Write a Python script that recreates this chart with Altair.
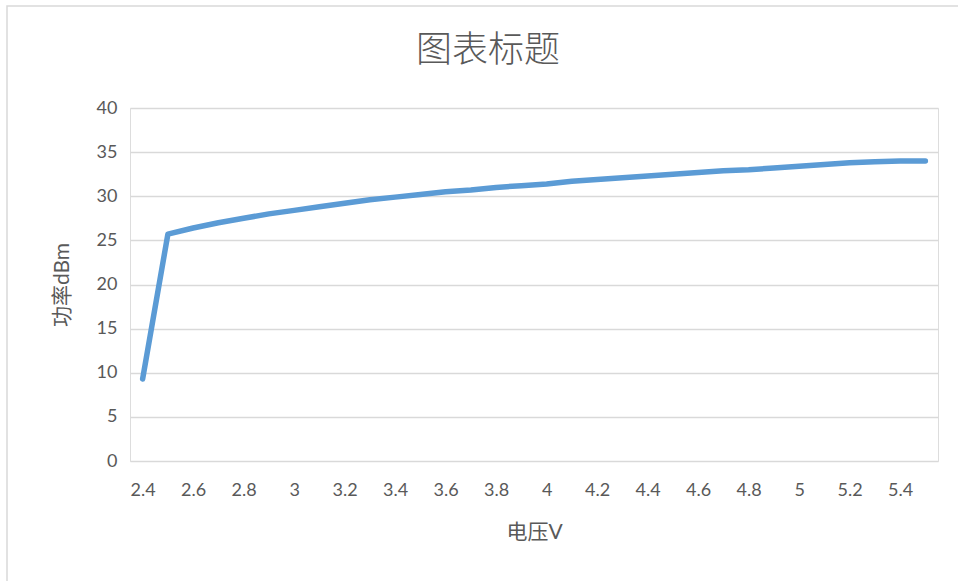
import altair as alt
import pandas as pd

voltage = [2.4, 2.5, 2.6, 2.7, 2.8, 2.9, 3.0, 3.1, 3.2, 3.3, 3.4, 3.5, 3.6, 3.7, 3.8, 3.9,
           4.0, 4.1, 4.2, 4.3, 4.4, 4.5, 4.6, 4.7, 4.8, 4.9, 5.0, 5.1, 5.2, 5.3, 5.4, 5.5]
power = [9.3, 25.7, 26.4, 27.0, 27.5, 28.0, 28.4, 28.8, 29.2, 29.6, 29.9, 30.2, 30.5, 30.7, 31.0, 31.2,
         31.4, 31.7, 31.9, 32.1, 32.3, 32.5, 32.7, 32.9, 33.0, 33.2, 33.4, 33.6, 33.8, 33.9, 34.0, 34.0]
x_tick_values = [2.4, 2.6, 2.8, 3.0, 3.2, 3.4, 3.6, 3.8, 4.0, 4.2, 4.4, 4.6, 4.8, 5.0, 5.2, 5.4]
y_tick_values = [0, 5, 10, 15, 20, 25, 30, 35, 40]
chart_title = ["图表标题"]

df = pd.DataFrame({"voltage": voltage, "power": power})

FONT = "Lato, Noto Sans CJK SC, sans-serif"
TEXT = "#595959"

line = alt.Chart(df).mark_line(
    color="#5B9BD5", strokeWidth=5.5, strokeCap="round", strokeJoin="round"
).encode(
    x=alt.X("voltage:Q",
            scale=alt.Scale(domain=[2.35, 5.55], nice=False, zero=False),
            axis=alt.Axis(values=x_tick_values, format=".2~f", grid=False, domain=False,
                          ticks=False, labelPadding=20, labelFontSize=18, labelColor=TEXT,
                          labelFont=FONT, title="电压V", titleFont=FONT, titleFontSize=21,
                          titleFontWeight="normal", titleColor=TEXT, titleY=71,
                          titleBaseline="middle", labelOverlap=False)),
    y=alt.Y("power:Q",
            scale=alt.Scale(domain=[0, 40], nice=False),
            axis=alt.Axis(values=y_tick_values, grid=True, gridColor="#d9d9d9", gridWidth=1.3,
                          domain=False, ticks=False, labelPadding=13, labelFontSize=18,
                          labelColor=TEXT, labelFont=FONT, title="功率dBm", titleFont=FONT,
                          titleFontSize=21, titleFontWeight="normal", titleColor=TEXT,
                          titleX=-68, titleBaseline="middle")),
)

border = alt.Chart(pd.DataFrame({"a": [0]})).mark_rect(
    fill=None, stroke="#d9d9d9", strokeWidth=1.5
).encode(
    x=alt.value(-123), x2=alt.value(900), y=alt.value(-102), y2=alt.value(600)
)

title = alt.Chart(pd.DataFrame({"t": chart_title})).mark_text(
    font="Noto Sans CJK SC", fontSize=36, fontWeight=300, color=TEXT,
    align="center", baseline="middle"
).encode(text="t:N", x=alt.value(358), y=alt.value(-57))

chart = alt.layer(border, line, title).properties(
    width=808, height=353,
    padding={"left": 130, "top": 108, "right": 20, "bottom": 120},
    autosize=alt.AutoSizeParams(type="none"),
).configure_view(stroke=None).configure(background="white")

chart.save("out.html", embed_options={"renderer": "svg", "actions": False})
